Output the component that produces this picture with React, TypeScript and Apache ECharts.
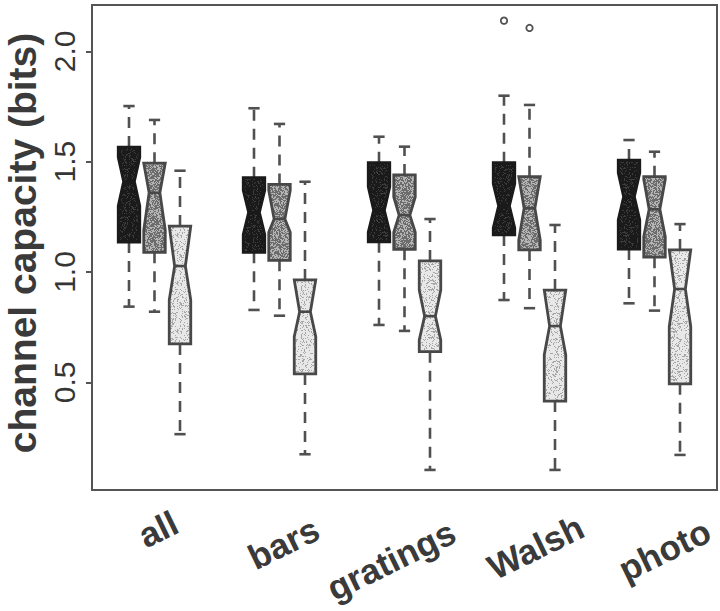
import React, { useEffect, useRef } from 'react';
import * as echarts from 'echarts';

const categories = ['all', 'bars', 'gratings', 'Walsh', 'photo'];

// each row: [lower whisker, Q1, notch low, median, notch high, Q3, upper whisker]
const blackBoxes = [
  [0.843, 1.136, 1.30, 1.41, 1.52, 1.566, 1.752],
  [0.828, 1.089, 1.17, 1.27, 1.37, 1.427, 1.742],
  [0.760, 1.137, 1.18, 1.28, 1.386, 1.495, 1.613],
  [0.873, 1.168, 1.20, 1.30, 1.40, 1.495, 1.799],
  [0.858, 1.104, 1.236, 1.341, 1.449, 1.507, 1.598],
];
const grayBoxes = [
  [0.820, 1.089, 1.19, 1.359, 1.493, 1.493, 1.689],
  [0.802, 1.053, 1.18, 1.24, 1.37, 1.397, 1.671],
  [0.733, 1.103, 1.18, 1.258, 1.34, 1.44, 1.568],
  [0.836, 1.100, 1.145, 1.289, 1.432, 1.432, 1.757],
  [0.825, 1.067, 1.16, 1.284, 1.42, 1.432, 1.545],
];
const lightBoxes = [
  [0.265, 0.674, 0.873, 1.027, 1.208, 1.208, 1.459],
  [0.174, 0.538, 0.707, 0.82, 0.964, 0.964, 1.409],
  [0.103, 0.639, 0.692, 0.80, 0.918, 1.05, 1.24],
  [0.103, 0.415, 0.624, 0.755, 0.918, 0.918, 1.213],
  [0.171, 0.493, 0.752, 0.923, 1.10, 1.10, 1.217],
];
const blackOutliers = [[], [], [], [2.139], []];
const grayOutliers = [[], [], [], [2.106], []];
const lightOutliers = [[], [], [], [], []];

const yTicks = [0.5, 1.0, 1.5, 2.0];
const yTitle = 'channel capacity (bits)';

// label placement (layout only): offset from category centre, absolute y
const labelDx = [3.5, 4, -13.5, 6, 10];
const labelY = [529, 543, 560, 547, 550];

const FONT = '"Liberation Sans", Arial, Helvetica, sans-serif';
const WHISKER = '#505050';

// stipple texture (purely decorative fill pattern)
function stipple(base: number, speck: number, speckShare: number) {
  const size = 48;
  const c = document.createElement('canvas');
  c.width = size;
  c.height = size;
  const ctx = c.getContext('2d')!;
  const img = ctx.createImageData(size, size);
  for (let y = 0; y < size; y++) {
    for (let x = 0; x < size; x++) {
      let h = (x * 374761393 + y * 668265263) | 0;
      h = Math.imul(h ^ (h >>> 13), 1274126177);
      h = (h ^ (h >>> 16)) >>> 0;
      const t = (h % 1000) / 1000;
      const v = t < speckShare ? speck : base;
      const k = (y * size + x) * 4;
      img.data[k] = v;
      img.data[k + 1] = v;
      img.data[k + 2] = v;
      img.data[k + 3] = 255;
    }
  }
  ctx.putImageData(img, 0, 0);
  return { image: c.toDataURL(), repeat: 'repeat', imageWidth: size, imageHeight: size };
}

function makeRenderer(offsetFrac: number, fill: any, stroke: string, outliers: number[][]) {
  return (params: any, api: any) => {
    const cat = api.value(0);
    const low = api.value(1);
    const q1 = api.value(2);
    const nLo = api.value(3);
    const med = api.value(4);
    const nHi = api.value(5);
    const q3 = api.value(6);
    const high = api.value(7);
    const band = api.size([1, 0])[0];
    const cx = api.coord([cat, med])[0] + offsetFrac * band;
    const hw = band * 0.086;
    const cap = band * 0.045;
    const Y = (v: number) => api.coord([cat, v])[1];
    const lo = Math.max(nLo, q1);
    const hi = Math.min(nHi, q3);
    const pts = [
      [cx - hw, Y(q1)], [cx - hw, Y(lo)], [cx - hw / 2, Y(med)], [cx - hw, Y(hi)], [cx - hw, Y(q3)],
      [cx + hw, Y(q3)], [cx + hw, Y(hi)], [cx + hw / 2, Y(med)], [cx + hw, Y(lo)], [cx + hw, Y(q1)],
    ];
    const children: any[] = [
      { type: 'line', shape: { x1: cx, y1: Y(q3), x2: cx, y2: Y(high) }, style: { stroke: WHISKER, lineWidth: 2.6, lineDash: [11, 8] } },
      { type: 'line', shape: { x1: cx, y1: Y(q1), x2: cx, y2: Y(low) }, style: { stroke: WHISKER, lineWidth: 2.6, lineDash: [11, 8] } },
      { type: 'line', shape: { x1: cx - cap, y1: Y(high), x2: cx + cap, y2: Y(high) }, style: { stroke: WHISKER, lineWidth: 2.6 } },
      { type: 'line', shape: { x1: cx - cap, y1: Y(low), x2: cx + cap, y2: Y(low) }, style: { stroke: WHISKER, lineWidth: 2.6 } },
      { type: 'polygon', shape: { points: pts }, style: { fill, stroke, lineWidth: 2.8, lineJoin: 'miter' } },
      { type: 'line', shape: { x1: cx - hw / 2, y1: Y(med), x2: cx + hw / 2, y2: Y(med) }, style: { stroke, lineWidth: 2.6 } },
    ];
    (outliers[params.dataIndex] || []).forEach((v) => {
      children.push({ type: 'circle', shape: { cx, cy: Y(v), r: 3.2 }, style: { fill: 'none', stroke: WHISKER, lineWidth: 1.8 } });
    });
    return { type: 'group', children };
  };
}

function boxSeries(name: string, rows: number[][], offsetFrac: number, fill: any, stroke: string, outliers: number[][]) {
  return {
    type: 'custom',
    name,
    renderItem: makeRenderer(offsetFrac, fill, stroke, outliers),
    encode: { x: 0, y: [1, 2, 3, 4, 5, 6, 7] },
    data: rows.map((r, i) => [i, ...r]),
    silent: true,
  };
}

export default function App() {
  const ref = useRef<HTMLDivElement>(null);
  useEffect(() => {
    document.body.style.margin = '0';
    const chart = echarts.init(ref.current!, null, { renderer: 'svg' });
    const blackFill = stipple(0x1a, 0x3c, 0.2);
    const grayFill = stipple(0x6c, 0xb4, 0.45);
    const lightFill = stipple(0xe8, 0xa6, 0.22);
    chart.setOption({
      animation: false,
      backgroundColor: '#ffffff',
      grid: { left: 92, top: 5, width: 625, height: 485, show: true, borderColor: '#555555', borderWidth: 2, backgroundColor: 'transparent' },
      xAxis: {
        type: 'category',
        data: categories,
        boundaryGap: true,
        axisLine: { show: false },
        axisTick: { show: false },
        axisLabel: { show: false },
        splitLine: { show: false },
      },
      yAxis: {
        type: 'value',
        min: 0.012,
        max: 2.21,
        axisLine: { show: false },
        splitLine: { show: false },
        axisTick: { show: true, inside: false, length: 6, customValues: yTicks, lineStyle: { color: '#555555', width: 2 } },
        axisLabel: {
          customValues: yTicks,
          rotate: 90,
          margin: 13,
          fontSize: 30,
          color: '#353535',
          fontFamily: FONT,
          formatter: (v: number) => v.toFixed(1),
        },
      },
      series: [
        boxSeries('black', blackBoxes, -0.204, blackFill, '#1a1a1a', blackOutliers),
        boxSeries('gray', grayBoxes, 0, grayFill, '#484848', grayOutliers),
        boxSeries('light', lightBoxes, 0.204, lightFill, '#484848', lightOutliers),
      ],
    });
    const labels = categories.map((c, i) => {
      const px = chart.convertToPixel({ xAxisIndex: 0 }, i) as number;
      return {
        type: 'text',
        x: px + labelDx[i],
        y: labelY[i],
        rotation: (26 * Math.PI) / 180,
        style: { text: c, font: `bold 35px ${FONT}`, fill: '#3a3a3a', textAlign: 'center', textVerticalAlign: 'middle' },
        silent: true,
      };
    });
    chart.setOption({
      graphic: [
        ...labels,
        {
          type: 'text',
          x: 22,
          y: 243,
          rotation: Math.PI / 2,
          style: { text: yTitle, font: `bold 39px ${FONT}`, fill: '#3a3a3a', textAlign: 'center', textVerticalAlign: 'middle' },
          silent: true,
        },
      ],
    });
    return () => chart.dispose();
  }, []);
  return <div ref={ref} style={{ width: 720, height: 611 }} />;
}
